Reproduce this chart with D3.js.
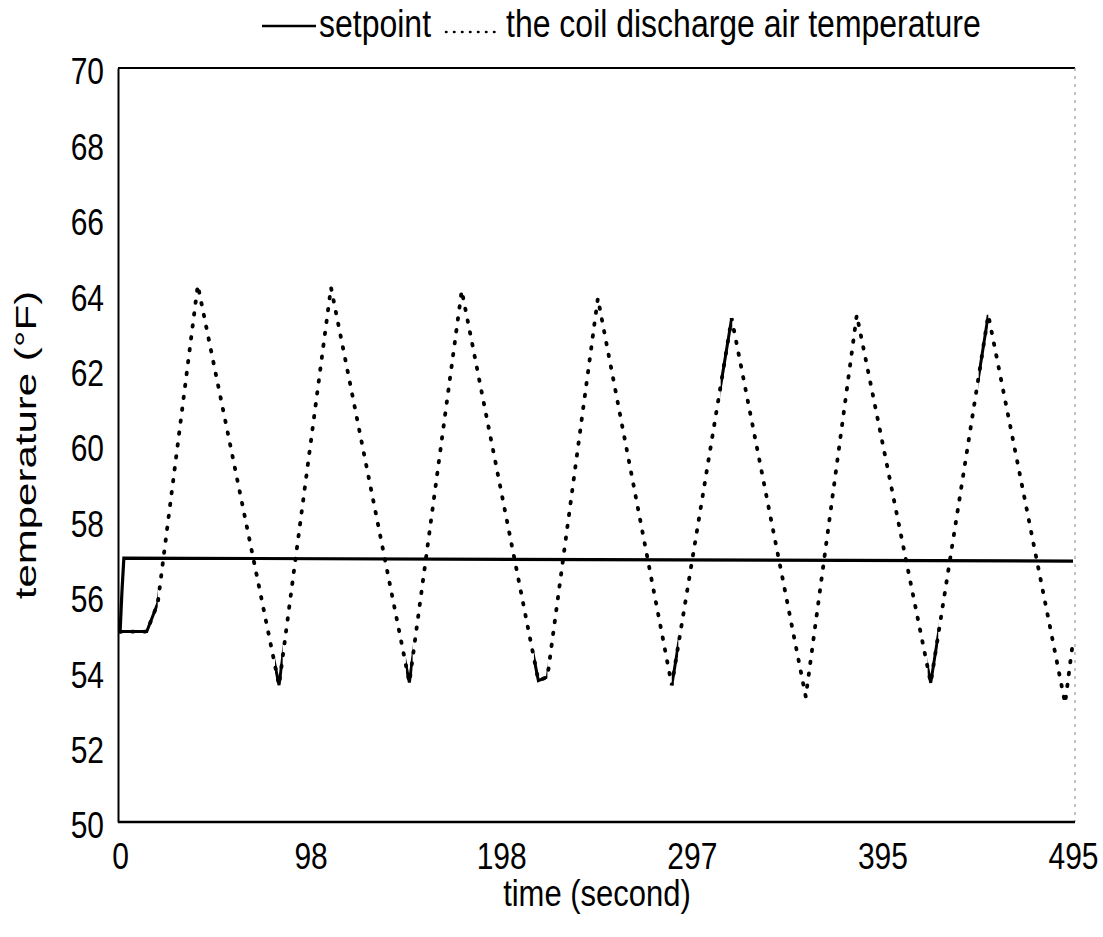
<!DOCTYPE html>
<html><head><meta charset="utf-8">
<script src="https://cdn.jsdelivr.net/npm/d3@7"></script>
<style>
body{margin:0;background:#fff;}
text{font-family:"Liberation Sans",Arial,sans-serif;fill:#000;}
</style></head>
<body><svg id="chart" width="1103" height="937"></svg>
<script>
// ---- data ----
const setpointTime = [0, 1, 2, 495];
const setpointTemp = [55, 56.1, 57, 56.92];
const dischargeTime = [0, 13.9, 19.6, 40.4, 82.6, 109.6, 150.3, 177.5, 217.3, 222, 248.2, 286.6, 317.7, 356.2, 382.7, 421.1, 451, 490.9, 495];
const dischargeTemp = [55.05, 55.05, 55.8, 64.24, 53.63, 64.18, 53.7, 64.1, 53.75, 53.85, 63.89, 53.63, 63.36, 53.32, 63.45, 53.69, 63.45, 53.15, 54.8];
const xTickValues = [0, 99, 198, 297, 396, 495];
const xTickLabels = ["0", "98", "198", "297", "395", "495"];
const yTickValues = [50, 52, 54, 56, 58, 60, 62, 64, 66, 68, 70];
// time spans where the scanned dotted line appears solid
const solidSpans = [[0, 19.6], [80.5, 84.5], [148.5, 152], [215, 222], [286.6, 290], [312, 318], [419.5, 425], [446, 451]];

const svg = d3.select("#chart");
const L = 118, R = 1075, T = 68, B = 822;
const SY = 1.2; // text looks vertically stretched in the reference
const x = d3.scaleLinear().domain([0, 495]).range([120, 1073]);
const y = d3.scaleLinear().domain([50, 70]).range([B, T]);

// frame: top solid, right light dashed
svg.append("line").attr("x1", L).attr("x2", R).attr("y1", T).attr("y2", T)
  .attr("stroke", "#000").attr("stroke-width", 2);
svg.append("line").attr("x1", R).attr("x2", R).attr("y1", T).attr("y2", B)
  .attr("stroke", "#999").attr("stroke-width", 1.2).attr("stroke-dasharray", "3 5");

// axes
const yAxis = d3.axisLeft(y).tickValues(yTickValues).tickSize(0).tickPadding(14).tickFormat(d3.format("d"));
const gy = svg.append("g").attr("transform", `translate(${L},0)`).call(yAxis);
gy.select(".domain").attr("stroke", "#000").attr("stroke-width", 2);
gy.selectAll(".tick text").attr("font-size", 30).attr("dy", "0.36em")
  .attr("transform", `translate(0,3) scale(1,${SY})`);

const xAxis = d3.axisBottom(x).tickValues(xTickValues).tickSize(0).tickPadding(0)
  .tickFormat((d, i) => xTickLabels[i]);
const gx = svg.append("g").attr("transform", `translate(0,${B})`).call(xAxis);
gx.select(".domain").attr("stroke", "#000").attr("stroke-width", 2.5).attr("d", `M${L},0H${R}`);
gx.selectAll(".tick text").attr("font-size", 30).attr("y", 0).attr("dy", 0)
  .attr("transform", `translate(0,47) scale(1,${SY})`);

// titles
svg.append("text").attr("transform", `translate(597,906) scale(1,${SY})`).attr("text-anchor", "middle")
  .attr("font-size", 31).text("time (second)");
svg.append("text").attr("transform", `translate(36,445) rotate(-90) scale(1.4,1)`).attr("text-anchor", "middle")
  .attr("font-size", 30).text("temperature (°F)");

// lines
const sp = setpointTime.map((t, i) => [t, setpointTemp[i]]);
const dt = dischargeTime.map((t, i) => [t, dischargeTemp[i]]);
const line = d3.line().x(d => x(d[0])).y(d => y(d[1]));

svg.append("path").datum(dt).attr("d", line).attr("fill", "none")
  .attr("stroke", "#000").attr("stroke-width", 3.8)
  .attr("stroke-linecap", "round").attr("stroke-dasharray", "1.5 10.5");

const defs = svg.append("defs");
const clip = defs.append("clipPath").attr("id", "solidclip");
solidSpans.forEach(s => clip.append("rect").attr("x", x(s[0])).attr("width", x(s[1]) - x(s[0]))
  .attr("y", T).attr("height", B - T));
svg.append("path").datum(dt).attr("d", line).attr("fill", "none")
  .attr("stroke", "#000").attr("stroke-width", 3).attr("clip-path", "url(#solidclip)");

svg.append("path").datum(sp).attr("d", line).attr("fill", "none")
  .attr("stroke", "#000").attr("stroke-width", 3.2);

// legend
const lg = svg.append("g");
lg.append("line").attr("x1", 262).attr("x2", 316).attr("y1", 26).attr("y2", 26)
  .attr("stroke", "#000").attr("stroke-width", 2.5);
lg.append("text").attr("transform", `translate(319,37) scale(1,${SY})`).attr("font-size", 32).text("setpoint");
lg.append("line").attr("x1", 446).attr("x2", 500).attr("y1", 32).attr("y2", 32)
  .attr("stroke", "#000").attr("stroke-width", 2.5).attr("stroke-linecap", "round")
  .attr("stroke-dasharray", "0.5 7.5");
lg.append("text").attr("transform", `translate(506,37) scale(1,${SY})`).attr("font-size", 32)
  .text("the coil discharge air temperature");
</script></body></html>
